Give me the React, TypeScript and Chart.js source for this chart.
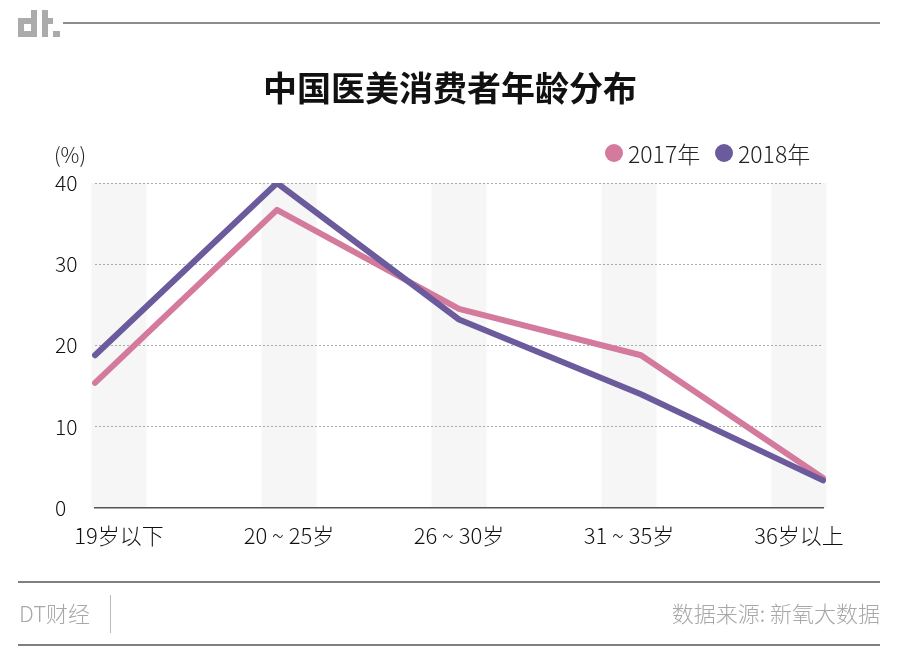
import React, { useEffect, useRef } from 'react';
import { Chart, registerables } from 'chart.js';
Chart.register(...registerables);

const categories = ['19岁以下', '20 ~ 25岁', '26 ~ 30岁', '31 ~ 35岁', '36岁以上'];
const seriesNames = ['2017年', '2018年'];
const values2017 = [15.4, 36.7, 24.5, 18.8, 3.7];
const values2018 = [18.8, 40, 23.2, 14.0, 3.4];
const yTicks = [0, 10, 20, 30, 40];
const colors = ['#d47a9c', '#6b5a9c'];

const title = '中国医美消费者年龄分布';
const unitLabel = '(%)';
const brand = 'DT财经';
const source = '数据来源: 新氧大数据';

const FONT = '"Noto Sans CJK SC", "Noto Sans", sans-serif';

const decorPlugin = {
  id: 'decor',
  beforeDraw(chart: any) {
    const { ctx, chartArea, width, height } = chart;
    const band = chart.scales.x2;
    ctx.save();
    ctx.fillStyle = '#ffffff';
    ctx.fillRect(0, 0, width, height);
    ctx.fillStyle = '#f6f6f6';
    for (let i = 0; i < categories.length; i++) {
      const x0 = band.getPixelForValue(i - 0.162);
      const x1 = band.getPixelForValue(i + 0.162);
      ctx.fillRect(x0, chartArea.top, x1 - x0, chartArea.bottom - chartArea.top);
    }
    ctx.restore();
  },
  afterDraw(chart: any) {
    const { ctx, width } = chart;
    ctx.save();
    // logo
    ctx.fillStyle = '#ababab';
    ctx.fillRect(31, 10, 6, 27);
    ctx.fillRect(18, 18, 13, 6);
    ctx.fillRect(18, 18, 6, 19);
    ctx.fillRect(18, 31, 13, 6);
    ctx.fillRect(42, 10, 6, 27);
    ctx.fillRect(48, 18, 5, 6);
    ctx.fillRect(53, 31, 7, 6);
    // top line
    ctx.strokeStyle = '#666';
    ctx.lineWidth = 1.5;
    ctx.beginPath();
    ctx.moveTo(63, 23);
    ctx.lineTo(880, 23);
    ctx.stroke();
    // title
    ctx.fillStyle = '#111';
    ctx.font = `bold 34px ${FONT}`;
    ctx.textAlign = 'center';
    ctx.textBaseline = 'middle';
    ctx.fillText(title, 450, 88);
    // unit
    ctx.fillStyle = '#222';
    ctx.font = `300 21px ${FONT}`;
    ctx.textAlign = 'left';
    ctx.fillText(unitLabel, 54, 155);
    // legend
    let lx = 614;
    const datasets = chart.data.datasets;
    for (let i = 0; i < datasets.length; i++) {
      ctx.fillStyle = datasets[i].borderColor;
      ctx.beginPath();
      ctx.arc(lx, 153, 9, 0, Math.PI * 2);
      ctx.fill();
      ctx.fillStyle = '#222';
      ctx.font = `300 23px ${FONT}`;
      ctx.textAlign = 'left';
      ctx.fillText(datasets[i].label, lx + 14, 154);
      lx += 110;
    }
    // footer
    ctx.strokeStyle = '#555';
    ctx.lineWidth = 1.5;
    ctx.beginPath();
    ctx.moveTo(18, 582);
    ctx.lineTo(880, 582);
    ctx.moveTo(18, 645);
    ctx.lineTo(880, 645);
    ctx.stroke();
    ctx.strokeStyle = '#bbb';
    ctx.lineWidth = 1;
    ctx.beginPath();
    ctx.moveTo(110.5, 595);
    ctx.lineTo(110.5, 633);
    ctx.stroke();
    ctx.fillStyle = '#a8a8a8';
    ctx.font = `300 22px ${FONT}`;
    ctx.textAlign = 'left';
    ctx.fillText(brand, 19, 614);
    ctx.textAlign = 'right';
    ctx.fillText(source, 880, 614);
    ctx.restore();
  },
};

export default function App() {
  const ref = useRef<HTMLCanvasElement | null>(null);
  useEffect(() => {
    if (!ref.current) return;
    const lineStyle = {
      borderWidth: 6,
      pointRadius: 0,
      tension: 0,
      borderJoinStyle: 'round' as const,
      borderCapStyle: 'round' as const,
    };
    const chart = new Chart(ref.current, {
      type: 'line',
      data: {
        labels: categories,
        datasets: [
          { label: seriesNames[0], data: values2017, borderColor: colors[0], backgroundColor: colors[0], order: 1, xAxisID: 'x', ...lineStyle },
          { label: seriesNames[1], data: values2018, borderColor: colors[1], backgroundColor: colors[1], order: 0, xAxisID: 'x', ...lineStyle },
        ],
      },
      options: {
        animation: false,
        responsive: false,
        maintainAspectRatio: false,
        layout: { padding: { left: 55, right: 77, top: 183, bottom: 0 } },
        plugins: {
          legend: { display: false },
          tooltip: { enabled: false },
          title: { display: false },
        },
        scales: {
          x: {
            type: 'category',
            display: false,
            offset: false,
          },
          x2: {
            type: 'linear',
            position: 'bottom',
            min: -0.1412,
            max: 4.1412,
            afterBuildTicks(scale: any) {
              scale.ticks = categories.map((_, i) => ({ value: i }));
            },
            grid: { display: false, drawTicks: false },
            border: { display: true, color: '#555', width: 1.5 },
            ticks: {
              color: '#111',
              font: { family: FONT, size: 22, weight: '300' as any },
              padding: 14,
              maxRotation: 0,
              autoSkip: false,
              callback: (v: any) => categories[v as number],
            },
            afterFit(scale: any) {
              scale.height = 141;
            },
          },
          y: {
            min: 0,
            max: 40,
            afterBuildTicks(scale: any) {
              scale.ticks = yTicks.map((v) => ({ value: v }));
            },
            grid: {
              drawTicks: false,
              color: (c: any) => (c.tick && c.tick.value === 0 ? 'rgba(0,0,0,0)' : '#aaaaaa'),
              lineWidth: 1,
            },
            border: { display: false, dash: [2, 2] },
            ticks: {
              color: '#111',
              font: { family: FONT, size: 21, weight: '300' as any },
              crossAlign: 'far',
              padding: 0,
            },
            afterFit(scale: any) {
              scale.width = 40;
            },
          },
        },
      },
      plugins: [decorPlugin],
    });
    return () => chart.destroy();
  }, []);
  return (
    <div style={{ position: 'fixed', left: 0, top: 0, width: 900, height: 649, background: '#fff' }}>
      <canvas ref={ref} width={900} height={649} style={{ width: 900, height: 649, display: 'block' }} />
    </div>
  );
}
